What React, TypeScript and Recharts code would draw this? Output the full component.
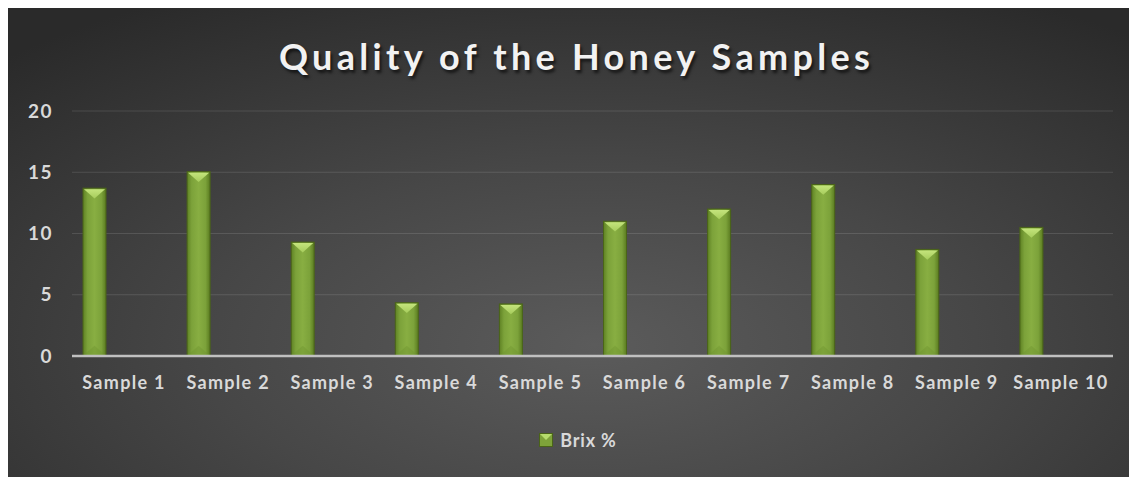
import React from 'react';
import { BarChart, Bar, XAxis, YAxis, CartesianGrid, Legend } from 'recharts';

const samples = ['Sample 1', 'Sample 2', 'Sample 3', 'Sample 4', 'Sample 5', 'Sample 6', 'Sample 7', 'Sample 8', 'Sample 9', 'Sample 10'];
const brix = [13.7, 15.05, 9.3, 4.35, 4.25, 11.0, 12.0, 14.0, 8.7, 10.5];
const yTicks = [0, 5, 10, 15, 20];

const data = samples.map((name, i) => ({ name, brix: brix[i], spacer: 0 }));

const FONT = 'Lato, "Open Sans", sans-serif';

const BevelBar = (props: any) => {
    const { x, y, width, height } = props;
    if (!height || height <= 0) return null;
    const tri = Math.min(width * 0.45, height / 2);
    return (
        <g>
            <rect x={x} y={y} width={width} height={height} fill="url(#barGrad)" stroke="#4a6418" strokeWidth={1} />
            <polygon
                points={`${x + 1},${y + 1} ${x + width - 1},${y + 1} ${x + width / 2},${y + tri}`}
                fill="url(#topGrad)"
            />
            <polygon
                points={`${x + 1},${y + height - 1} ${x + width - 1},${y + height - 1} ${x + width / 2},${y + height - tri}`}
                fill="#6f9330"
                opacity={0.4}
            />
        </g>
    );
};

const CustomLegend = () => (
    <div style={{ display: 'flex', justifyContent: 'center', alignItems: 'center', gap: 7, paddingLeft: 35, height: 40 }}>
        <svg width={14} height={14}>
            <rect x={0.5} y={0.5} width={13} height={13} fill="#7ea33a" stroke="#4a6418" />
            <polygon points="1,1 13,1 7,7" fill="#b6dc6c" />
        </svg>
        <span style={{ color: '#d9d9d9', fontFamily: FONT, fontWeight: 700, fontSize: 18, letterSpacing: 0.8 }}>Brix %</span>
    </div>
);

export default function App() {
    return (
        <div
            style={{
                position: 'relative',
                width: 1129,
                height: 471,
                marginTop: -2,
                background: 'radial-gradient(ellipse 75% 85% at 52% 72%, #5b5b5b 0%, #474747 45%, #2a2a2a 100%)',
            }}
        >
            <div
                style={{
                    position: 'absolute',
                    top: 28,
                    left: 4,
                    width: '100%',
                    textAlign: 'center',
                    color: '#f2f2f2',
                    fontFamily: FONT,
                    fontWeight: 700,
                    fontSize: 36,
                    letterSpacing: 4.3,
                    textShadow: '2px 3px 3px rgba(0,0,0,0.6)',
                }}
            >
                Quality of the Honey Samples
            </div>
            <BarChart
                width={1129}
                height={471}
                data={data}
                margin={{ top: 105, right: 24, left: 0, bottom: 17 }}
                barGap={0}
                style={{ position: 'absolute', top: 0, left: 0 }}
            >
                <defs>
                    <linearGradient id="barGrad" x1="0" y1="0" x2="1" y2="0">
                        <stop offset="0%" stopColor="#5f8224" />
                        <stop offset="20%" stopColor="#7ca23a" />
                        <stop offset="50%" stopColor="#88ae42" />
                        <stop offset="80%" stopColor="#7ca23a" />
                        <stop offset="100%" stopColor="#5a7b20" />
                    </linearGradient>
                    <linearGradient id="topGrad" x1="0" y1="0" x2="0" y2="1">
                        <stop offset="0%" stopColor="#c4e47c" />
                        <stop offset="100%" stopColor="#a6cc5c" />
                    </linearGradient>
                </defs>
                <CartesianGrid vertical={false} stroke="rgba(255,255,255,0.12)" />
                <XAxis
                    dataKey="name"
                    height={64}
                    interval={0}
                    tickLine={false}
                    tickSize={0}
                    tickMargin={20}
                    axisLine={{ stroke: '#c0c0c0', strokeWidth: 2.5 }}
                    tick={{ fill: '#d9d9d9', fontFamily: FONT, fontWeight: 700, fontSize: 18, letterSpacing: 1.3 }}
                />
                <YAxis
                    width={64}
                    domain={[0, 20]}
                    ticks={yTicks}
                    tickLine={false}
                    axisLine={false}
                    tickSize={0}
                    tickMargin={19}
                    tick={{ fill: '#d9d9d9', fontFamily: FONT, fontWeight: 700, fontSize: 19, letterSpacing: 1.5 }}
                />
                <Legend verticalAlign="bottom" height={40} content={<CustomLegend />} />
                <Bar dataKey="brix" name="Brix %" barSize={23} shape={<BevelBar />} isAnimationActive={false} />
                <Bar dataKey="spacer" barSize={59} fill="transparent" legendType="none" isAnimationActive={false} />
            </BarChart>
        </div>
    );
}
